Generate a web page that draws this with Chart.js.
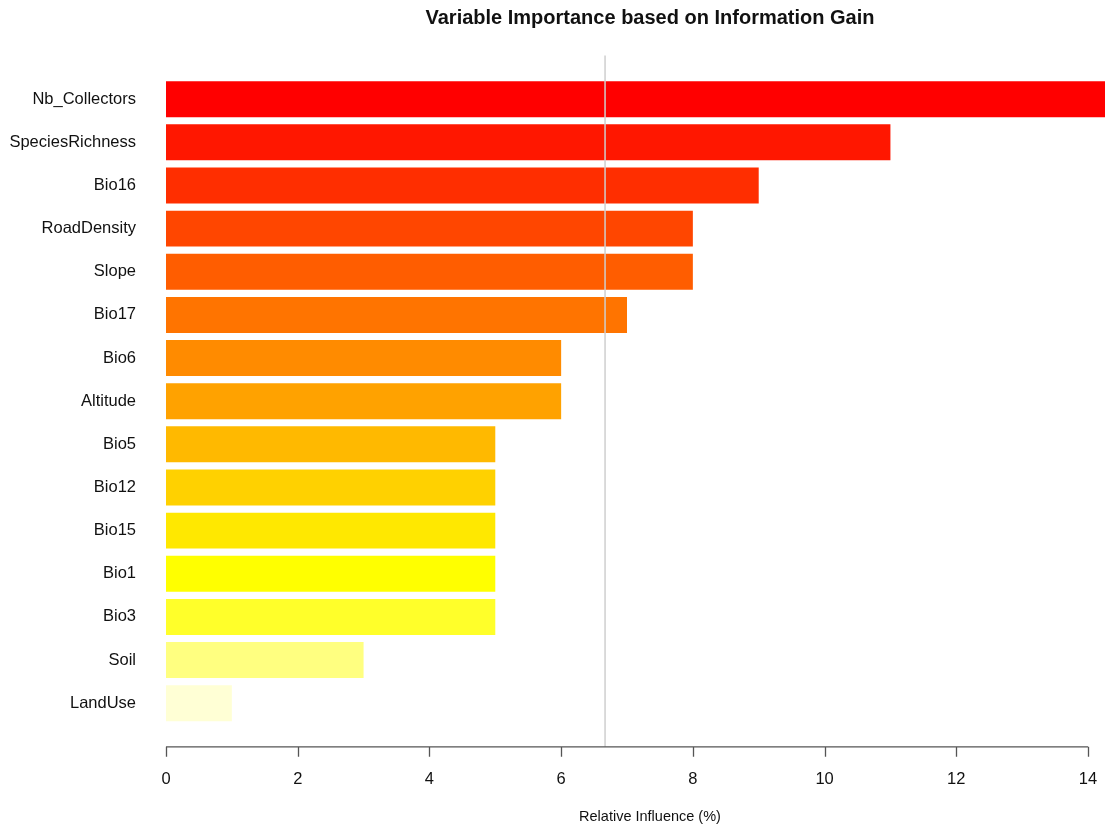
<!DOCTYPE html>
<html>
<head>
<meta charset="utf-8">
<script src="https://cdn.jsdelivr.net/npm/chart.js@4"></script>
<style>
  html, body { margin: 0; padding: 0; background: #fff; overflow: hidden; }
</style>
</head>
<body>
<canvas id="myChart" width="1300" height="830"></canvas>
<script>
const variables = ['Nb_Collectors', 'SpeciesRichness', 'Bio16', 'RoadDensity', 'Slope', 'Bio17',
  'Bio6', 'Altitude', 'Bio5', 'Bio12', 'Bio15', 'Bio1', 'Bio3', 'Soil', 'LandUse'];
const influence = [16, 11, 9, 8, 8, 7, 6, 6, 5, 5, 5, 5, 5, 3, 1];
const xTicks = [0, 2, 4, 6, 8, 10, 12, 14];

// rev(heat.colors(15)) style palette
const heat = ['#FF0000', '#FF1700', '#FF2E00', '#FF4600', '#FF5D00', '#FF7400', '#FF8B00', '#FFA200',
  '#FFB900', '#FFD100', '#FFE800', '#FFFF00', '#FFFF2A', '#FFFF80', '#FFFFD5'];

const meanInfluence = influence.reduce((a, b) => a + b, 0) / influence.length;

Chart.defaults.font.family = '"Liberation Sans", Arial, sans-serif';
Chart.defaults.color = '#111';

// R-style axis: line + ticks sitting a bit below the bars, and the mean line
const rAxis = {
  id: 'rAxis',
  afterDatasetsDraw(chart) {
    const { ctx, chartArea, scales } = chart;
    const x = scales.x;
    const axisY = chartArea.bottom + 22;
    ctx.save();
    // mean line
    const mx = x.getPixelForValue(meanInfluence);
    ctx.strokeStyle = '#cfcfcf';
    ctx.lineWidth = 1.5;
    ctx.beginPath();
    ctx.moveTo(mx, chartArea.top - 22);
    ctx.lineTo(mx, axisY);
    ctx.stroke();
    // axis
    ctx.strokeStyle = '#555';
    ctx.lineWidth = 1.3;
    ctx.beginPath();
    ctx.moveTo(x.getPixelForValue(xTicks[0]), axisY);
    ctx.lineTo(x.getPixelForValue(xTicks[xTicks.length - 1]), axisY);
    xTicks.forEach(t => {
      const px = Math.round(x.getPixelForValue(t)) + 0.5;
      ctx.moveTo(px, axisY);
      ctx.lineTo(px, axisY + 10);
    });
    ctx.stroke();
    ctx.restore();
  }
};

const ctx = document.getElementById('myChart').getContext('2d');
const chart = new Chart(ctx, {
  type: 'bar',
  data: {
    labels: variables,
    datasets: [{
      data: influence,
      backgroundColor: heat,
      borderWidth: 0,
      categoryPercentage: 1,
      barPercentage: 1 / 1.2,
      clip: false
    }]
  },
  plugins: [rAxis],
  options: {
    indexAxis: 'y',
    responsive: false,
    animation: false,
    layout: { padding: 0 },
    plugins: {
      legend: { display: false },
      tooltip: { enabled: false },
      title: {
        display: true,
        text: 'Variable Importance based on Information Gain',
        color: '#111',
        font: { size: 20, weight: 'bold' },
        padding: { top: 6, bottom: 47.6 }
      },
      subtitle: {
        display: true,
        position: 'bottom',
        text: 'Relative Influence (%)',
        color: '#111',
        font: { size: 14.5 },
        padding: { top: 0, bottom: 4.3 }
      }
    },
    scales: {
      x: {
        min: 0,
        max: 14,
        grid: { display: false, drawTicks: false },
        border: { display: false },
        ticks: {
          stepSize: 2,
          padding: 45,
          font: { size: 16.5 },
          color: '#111',
          maxRotation: 0
        },
        afterFit(scale) { scale.height = 83.5; }
      },
      y: {
        grid: { display: false, drawTicks: false },
        border: { display: false },
        ticks: {
          padding: 30,
          font: { size: 16.5 },
          color: '#111',
          autoSkip: false
        },
        afterFit(scale) { scale.width = 166; }
      },
      // empty right-hand margin so the chart area stops at 14
      margin: {
        type: 'linear',
        position: 'right',
        grid: { display: false, drawTicks: false },
        border: { display: false },
        ticks: { display: false },
        afterFit(scale) { scale.width = 212; }
      }
    }
  }
});
</script>
</body>
</html>
